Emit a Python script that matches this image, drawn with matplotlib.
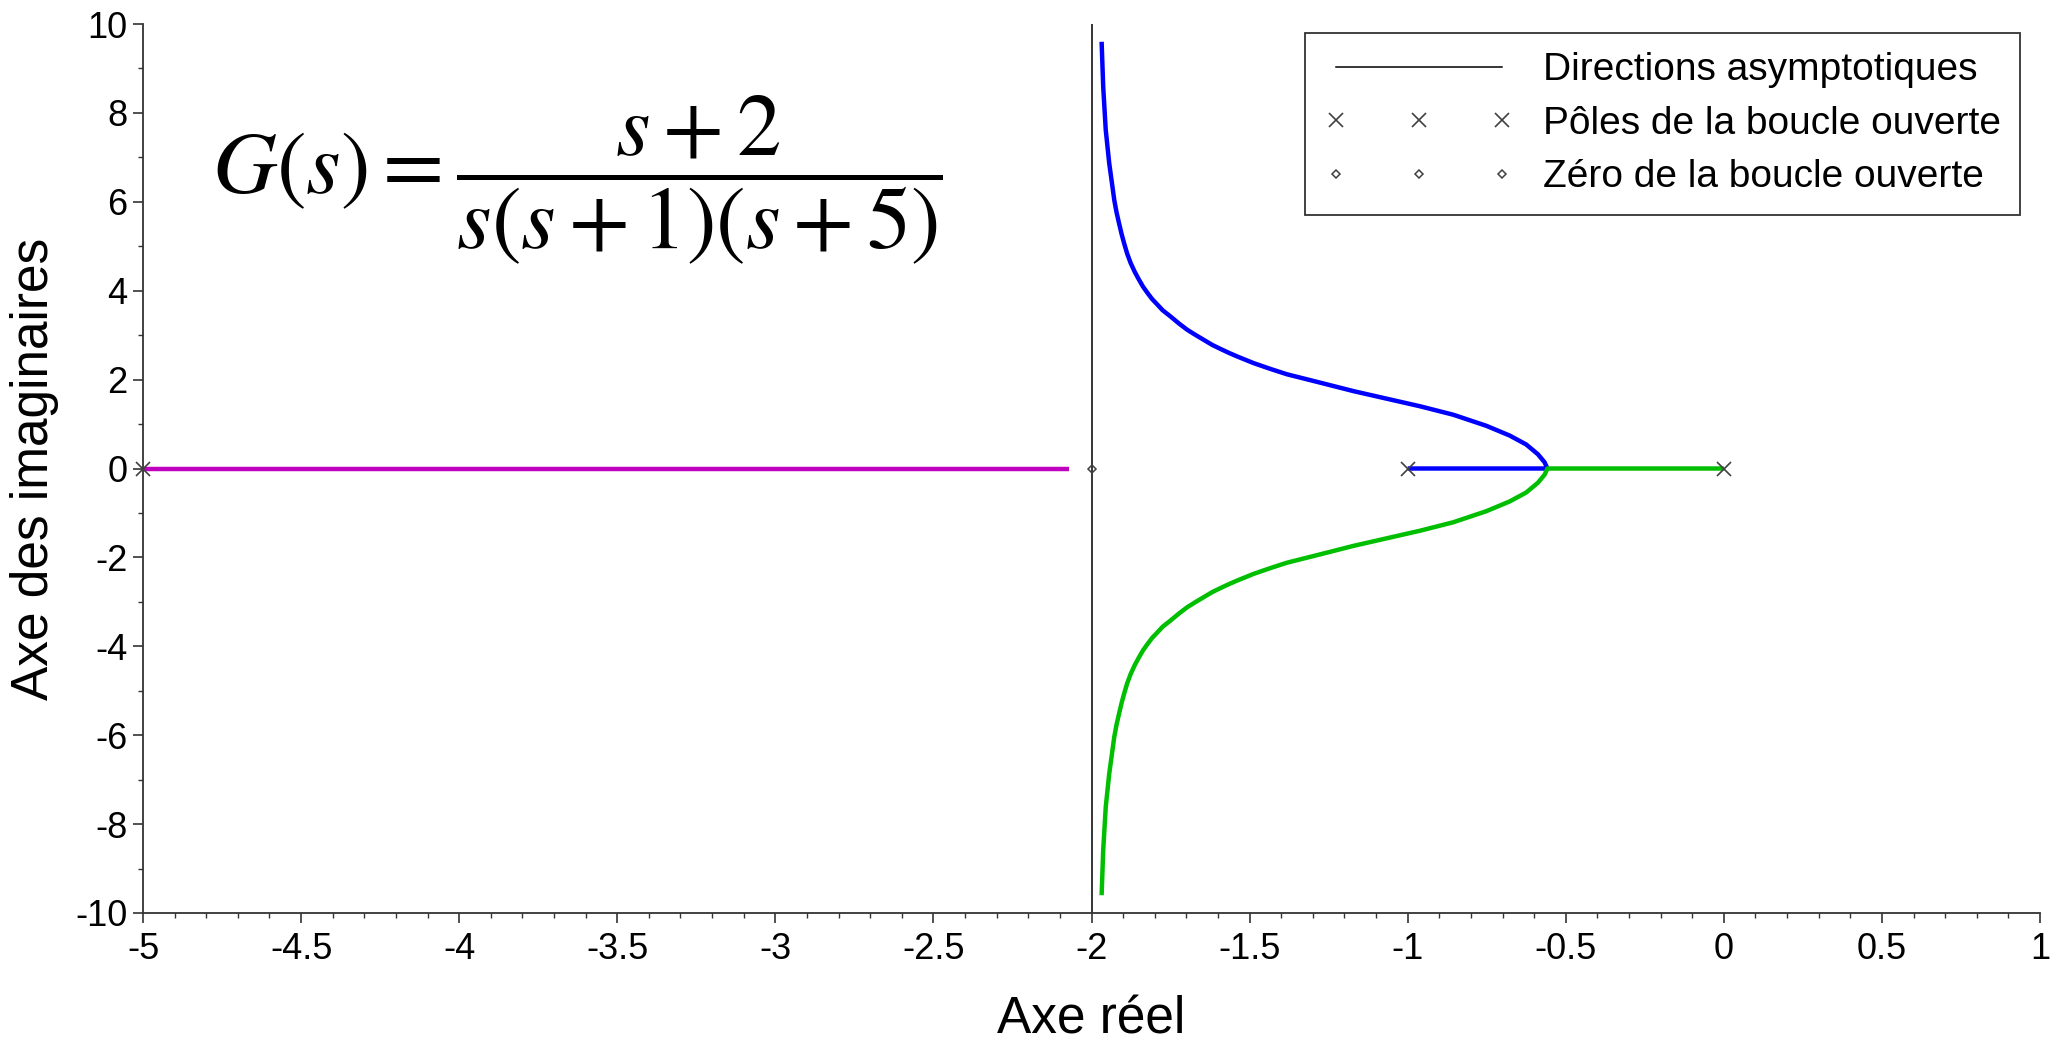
import numpy as np
import matplotlib
matplotlib.use('Agg')
import matplotlib.pyplot as plt
from matplotlib.ticker import MultipleLocator, FuncFormatter

plt.rcParams['font.family'] = ['Liberation Sans', 'DejaVu Sans']
plt.rcParams['axes.unicode_minus'] = False
plt.rcParams['mathtext.fontset'] = 'stix'

# pôles et zéro de la boucle ouverte
poles_x = [-5, -1, 0]
poles_y = [0, 0, 0]
zero_x = [-2]
zero_y = [0]

# direction asymptotique (sigma = -2)
asym_x = [-2, -2]
asym_y = [-10, 10]

# branche 1 (magenta) : de -5 vers le zéro
b1_x = [-5, -2.07]
b1_y = [0, 0]

# branche 2 (bleu) : de -1 vers le haut
b2_x = [-1.0, -0.558, -0.567, -0.588, -0.625, -0.677, -0.751, -0.856, -0.961,
        -1.066, -1.171, -1.276, -1.382, -1.434, -1.487, -1.539, -1.565, -1.592,
        -1.618, -1.644, -1.670, -1.697, -1.723, -1.750, -1.775, -1.792, -1.808,
        -1.823, -1.837, -1.850, -1.863, -1.876, -1.887, -1.897, -1.905, -1.913,
        -1.921, -1.928, -1.944, -1.955, -1.963, -1.968]
b2_y = [0, 0, 0.14, 0.32, 0.54, 0.74, 0.96, 1.21, 1.40,
        1.57, 1.74, 1.93, 2.12, 2.24, 2.37, 2.52, 2.60, 2.69,
        2.78, 2.89, 3.00, 3.12, 3.26, 3.42, 3.56, 3.69, 3.81,
        3.95, 4.09, 4.25, 4.42, 4.62, 4.83, 5.07, 5.28, 5.52,
        5.77, 6.04, 6.87, 7.62, 8.59, 9.60]

# branche 3 (vert) : de 0 vers le bas (symétrique de la bleue)
b3_x = [0, -0.558, -0.567, -0.588, -0.625, -0.677, -0.751, -0.856, -0.961,
        -1.066, -1.171, -1.276, -1.382, -1.434, -1.487, -1.539, -1.565, -1.592,
        -1.618, -1.644, -1.670, -1.697, -1.723, -1.750, -1.775, -1.792, -1.808,
        -1.823, -1.837, -1.850, -1.863, -1.876, -1.887, -1.897, -1.905, -1.913,
        -1.921, -1.928, -1.944, -1.955, -1.963, -1.968]
b3_y = [0, 0, -0.14, -0.32, -0.54, -0.74, -0.96, -1.21, -1.40,
        -1.57, -1.74, -1.93, -2.12, -2.24, -2.37, -2.52, -2.60, -2.69,
        -2.78, -2.89, -3.00, -3.12, -3.26, -3.42, -3.56, -3.69, -3.81,
        -3.95, -4.09, -4.25, -4.42, -4.62, -4.83, -5.07, -5.28, -5.52,
        -5.77, -6.04, -6.87, -7.62, -8.59, -9.60]

fig = plt.figure(figsize=(20.6, 10.44), dpi=100)
ax = fig.add_axes([143 / 2060, 131 / 1044, 1897 / 2060, 889 / 1044])

ax.plot(b1_x, b1_y, color='#BF00BF', lw=3.2, solid_capstyle='butt')
ax.plot(b2_x, b2_y, color='#0000FF', lw=3.2, solid_capstyle='butt', solid_joinstyle='round')
ax.plot(b3_x, b3_y, color='#00BE00', lw=3.2, solid_capstyle='butt', solid_joinstyle='round')

ax.plot(asym_x, asym_y, color='black', lw=1.1, label='Directions asymptotiques')
ax.plot(poles_x, poles_y, ls='none', marker='x', ms=10, mew=1.2, color='#404040',
        clip_on=False, label='Pôles de la boucle ouverte', zorder=5)
ax.plot(zero_x, zero_y, ls='none', marker='D', ms=4.5, mew=1.1, mfc='none',
        mec='#404040', clip_on=False, label='Zéro de la boucle ouverte', zorder=5)

ax.set_xlim(-5, 1)
ax.set_ylim(-10, 10)
ax.xaxis.set_major_locator(MultipleLocator(0.5))
ax.xaxis.set_minor_locator(MultipleLocator(0.1))
ax.yaxis.set_major_locator(MultipleLocator(2))
ax.yaxis.set_minor_locator(MultipleLocator(1))
fmt = FuncFormatter(lambda v, p: f'{v:g}')
ax.xaxis.set_major_formatter(fmt)
ax.yaxis.set_major_formatter(fmt)

for side in ['top', 'right']:
    ax.spines[side].set_visible(False)
for side in ['left', 'bottom']:
    ax.spines[side].set_color('#333333')
    ax.spines[side].set_linewidth(1.3)

ax.tick_params(which='major', direction='out', length=7, width=1.2, color='#333333',
               labelsize=26)
ax.tick_params(which='minor', direction='out', length=3.5, width=1.0, color='#333333')
ax.tick_params(axis='x', which='major', pad=7)
ax.tick_params(axis='y', which='major', pad=4)

ax.set_xlabel('Axe réel', fontsize=37, labelpad=20)
ax.set_ylabel('Axe des imaginaires', fontsize=37, labelpad=12)

leg = ax.legend(loc='upper right', bbox_to_anchor=(2020 / 2060, 1 - 33 / 1044),
                bbox_transform=fig.transFigure, borderaxespad=0, fontsize=28,
                numpoints=3, handlelength=4.85, handletextpad=0.75,
                labelspacing=0.45, borderpad=0.5, fancybox=False, framealpha=1)
leg.get_frame().set_edgecolor('#333333')
leg.get_frame().set_linewidth(1.3)

fig.text(212 / 2060, 1 - 180 / 1044,
         r'$G\left(s\right)=\dfrac{s+2}{s\left(s+1\right)\left(s+5\right)}$',
         fontsize=64, ha='left', va='center')

fig.savefig('out.png', dpi=100)
